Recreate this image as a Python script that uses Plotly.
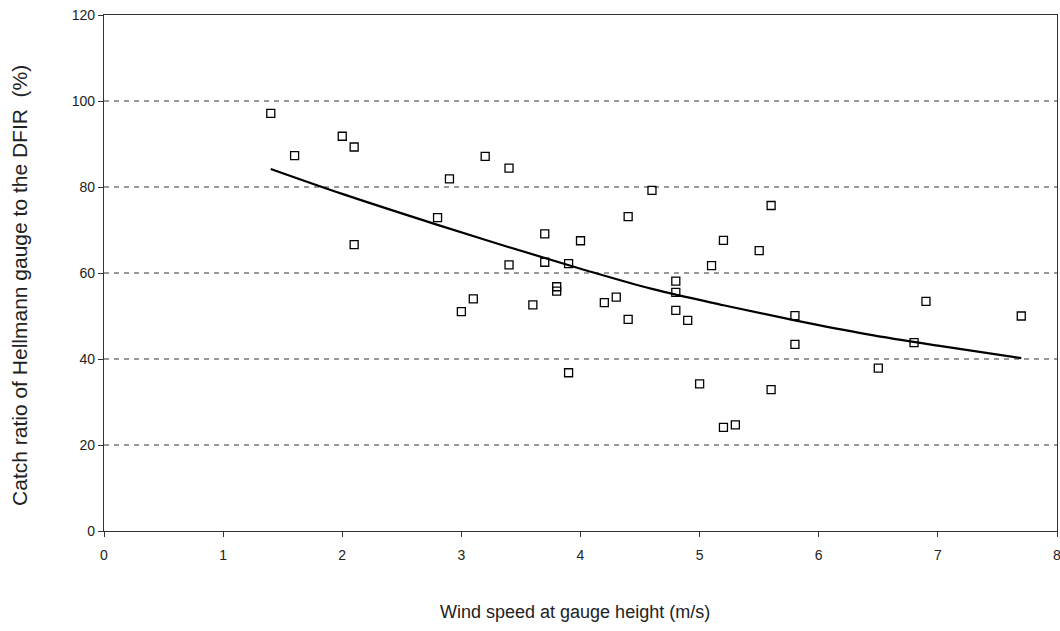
import plotly.graph_objects as go

# Observed points: wind speed (m/s) vs catch ratio (%)
wind_speed = [1.4, 1.6, 2.0, 2.1, 2.1, 2.8, 2.9, 3.0, 3.1, 3.2, 3.4, 3.4, 3.6, 3.7, 3.7,
              3.8, 3.8, 3.9, 3.9, 4.0, 4.2, 4.3, 4.4, 4.4, 4.6, 4.8, 4.8, 4.8, 4.9, 5.0,
              5.1, 5.2, 5.2, 5.3, 5.5, 5.6, 5.6, 5.8, 5.8, 6.5, 6.8, 6.9, 7.7]
catch_ratio = [97.1, 87.3, 91.8, 89.3, 66.6, 72.9, 81.9, 51.0, 54.0, 87.1, 84.4, 61.9, 52.6, 69.1, 62.5,
               56.8, 55.8, 62.2, 36.8, 67.5, 53.1, 54.4, 73.1, 49.2, 79.2, 58.1, 55.5, 51.3, 49.0, 34.2,
               61.7, 67.6, 24.1, 24.7, 65.2, 75.7, 32.9, 50.1, 43.4, 37.9, 43.8, 53.4, 50.0]

# Trend curve, values
trend_x = [1.4, 2.0, 2.8, 3.4, 4.0, 4.6, 5.2, 5.8, 6.4, 7.0, 7.7]
trend_y = [84.2, 78.4, 71.2, 66.0, 61.0, 56.3, 52.5, 49.0, 45.8, 43.1, 40.2]

x_ticks = [0, 1, 2, 3, 4, 5, 6, 7, 8]
y_ticks = [0, 20, 40, 60, 80, 100, 120]
grid_levels = [20, 40, 60, 80, 100]

fig = go.Figure()

for g in grid_levels:
    fig.add_shape(type="line", xref="paper", x0=0, x1=1, yref="y", y0=g, y1=g,
                  line=dict(color="#333333", width=1, dash="5px,5px"), layer="below")

fig.add_trace(go.Scatter(x=trend_x, y=trend_y, mode="lines", line=dict(color="black", width=2.2, shape="spline"),
                         showlegend=False, hoverinfo="skip"))
fig.add_trace(go.Scatter(x=wind_speed, y=catch_ratio, mode="markers",
                         marker=dict(symbol="square-open", size=8, color="black", line=dict(width=1.3, color="black")),
                         showlegend=False))

font_family = "Liberation Sans, Arial, sans-serif"

fig.update_layout(
    width=1060, height=631,
    margin=dict(l=104, r=3, t=15, b=100, autoexpand=False),
    paper_bgcolor="white", plot_bgcolor="white",
    font=dict(family=font_family, color="#222222", size=14),
    xaxis=dict(range=[0, 8], tickvals=x_ticks, ticks="outside", ticklen=5, tickcolor="#333",
               showline=True, linecolor="#333", linewidth=1.2, mirror=True, showgrid=False, zeroline=False,
               tickfont=dict(size=14), ticklabeloverflow="allow", ticklabelstandoff=6, automargin=False),
    yaxis=dict(range=[0, 120], tickvals=y_ticks, ticks="outside", ticklen=5, tickcolor="#333",
               showline=True, linecolor="#333", linewidth=1.2, mirror=True, showgrid=False, zeroline=False,
               tickfont=dict(size=14), automargin=False),
    annotations=[
        dict(text="Wind speed at gauge height (m/s)", xref="paper", yref="paper", x=0.494, y=-0.157,
             xanchor="center", yanchor="middle", showarrow=False, font=dict(size=18)),
        dict(text="Catch ratio of Hellmann gauge to the DFIR  (%)", xref="paper", yref="paper", x=-0.0881, y=0.475,
             xanchor="center", yanchor="middle", textangle=-90, showarrow=False, font=dict(size=21)),
    ],
)

fig.write_html("out.html")
